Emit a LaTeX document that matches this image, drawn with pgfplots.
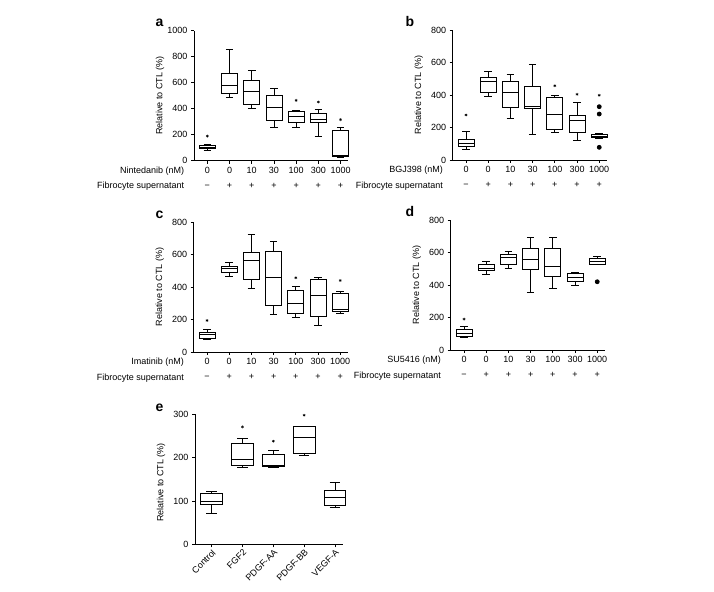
\documentclass[border=0pt]{standalone}
\usepackage{fontspec}
\setmainfont{Liberation Sans}
\usepackage{pgfplots}
\pgfplotsset{compat=1.18}
\usepgfplotslibrary{statistics}

\newcommand\fs{\fontsize{9}{10.5}\selectfont}

\tikzset{letter/.style={font=\bfseries\fontsize{14}{14}\selectfont, anchor=base west}}

\pgfplotsset{
  gp/.style={
    scale only axis,
    anchor=south west,
    axis lines=left,
    axis line style={-, line width=0.75pt},
    every tick/.style={black, line width=0.75pt},
    tick align=outside,
    major tick length=3pt,
    ymin=0,
    height=130pt,
    font=\fs,
    /pgf/number format/assume math mode=true,
    /pgf/number format/1000 sep={},
    ticklabel style={font=\fs},
    clip=false,
    ylabel={Relative to CTL (\%)},
    every axis y label/.style={at={(rel axis cs:0,0.5)}, xshift=-34pt,
      rotate=90, anchor=center, font=\fs},
    boxplot/draw direction=y,
    boxplot/box extend=0.72,
    boxplot/whisker extend=0.34,
  },
  dose/.style={
    xmin=-0.6, xmax=6.35, width=154.3pt,
    xtick={0,...,6},
    xticklabel style={align=center},
    xticklabels={{0\\[4pt]\char"2212},{0\\[4pt]+},{10\\[4pt]+},{30\\[4pt]+},
                 {100\\[4pt]+},{300\\[4pt]+},{1000\\[4pt]+}},
  },
  bx/.style={black, solid, line width=0.75pt, mark=*,
    mark options={fill=black, solid}, mark size=2pt,
    boxplot prepared={#1}},
  sig/.style={black, only marks, mark=asterisk, mark size=1.4pt, line width=0.5pt},
}

% treatment labels left of the dose rows
\newcommand\rows[1]{%
  \node[anchor=base east] at ([yshift=-12.8pt]axis cs:-0.88,0) {#1};
  \node[anchor=base east] at ([yshift=-28.3pt]axis cs:-0.88,0) {Fibrocyte supernatant};}

\begin{document}
\begin{tikzpicture}
% page frame
\path (0,0) rectangle (714pt,591pt);

% ---------------- a: Nintedanib ----------------
\node[letter] at (152pt,564pt) {a};
\begin{axis}[gp, dose, at={(194pt,430.3pt)}, ymax=1000, ytick={0,200,...,1000}]
\addplot[bx={draw position=0, lower whisker=80,  lower quartile=95,  median=103, upper quartile=115, upper whisker=122}] coordinates {};
\addplot[bx={draw position=1, lower whisker=487, lower quartile=520, median=577, upper quartile=668, upper whisker=855}] coordinates {};
\addplot[bx={draw position=2, lower whisker=400, lower quartile=436, median=533, upper quartile=615, upper whisker=696}] coordinates {};
\addplot[bx={draw position=3, lower whisker=258, lower quartile=311, median=413, upper quartile=505, upper whisker=553}] coordinates {};
\addplot[bx={draw position=4, lower whisker=260, lower quartile=291, median=340, upper quartile=383, upper whisker=390}] coordinates {};
\addplot[bx={draw position=5, lower whisker=189, lower quartile=291, median=319, upper quartile=367, upper whisker=393}] coordinates {};
\addplot[bx={draw position=6, lower whisker=26,  lower quartile=31,  median=43,  upper quartile=230, upper whisker=255}] coordinates {};
\addplot[sig] coordinates {(0,189) (4,464) (5,451) (6,316)};
\rows{Nintedanib (nM)}
\end{axis}

% ---------------- b: BGJ398 ----------------
\node[letter] at (402pt,564pt) {b};
\begin{axis}[gp, dose, at={(452.7pt,431pt)}, ymax=800, ytick={0,200,...,800}]
\addplot[bx={draw position=0, lower whisker=68,  lower quartile=82,  median=103, upper quartile=129, upper whisker=174}] coordinates {};
\addplot[bx={draw position=1, lower whisker=394, lower quartile=414, median=482, upper quartile=509, upper whisker=544}] coordinates {};
\addplot[bx={draw position=2, lower whisker=258, lower quartile=322, median=416, upper quartile=486, upper whisker=527}] coordinates {};
\addplot[bx={draw position=3, lower whisker=158, lower quartile=316, median=332, upper quartile=451, upper whisker=591}] coordinates {};
\addplot[bx={draw position=4, lower whisker=172, lower quartile=187, median=283, upper quartile=384, upper whisker=399}] coordinates {};
\addplot[bx={draw position=5, lower whisker=118, lower quartile=172, median=244, upper quartile=274, upper whisker=353}] coordinates {};
\addplot[bx={draw position=6, lower whisker=133, lower quartile=137, median=148, upper quartile=160, upper whisker=164}] coordinates {(6,328) (6,283) (6,78)};
\addplot[sig] coordinates {(0,277) (4,457) (5,404) (6,398)};
\rows{BGJ398 (nM)}
\end{axis}

% ---------------- c: Imatinib ----------------
\node[letter] at (152pt,372pt) {c};
\begin{axis}[gp, dose, at={(193.7pt,239pt)}, ymax=800, ytick={0,200,...,800}]
\addplot[bx={draw position=0, lower whisker=79,  lower quartile=86,  median=106, upper quartile=121, upper whisker=142}] coordinates {};
\addplot[bx={draw position=1, lower whisker=463, lower quartile=493, median=514, upper quartile=528, upper whisker=549}] coordinates {};
\addplot[bx={draw position=2, lower whisker=392, lower quartile=449, median=564, upper quartile=612, upper whisker=724}] coordinates {};
\addplot[bx={draw position=3, lower whisker=230, lower quartile=286, median=459, upper quartile=620, upper whisker=679}] coordinates {};
\addplot[bx={draw position=4, lower whisker=210, lower quartile=237, median=300, upper quartile=382, upper whisker=403}] coordinates {};
\addplot[bx={draw position=5, lower whisker=162, lower quartile=220, median=346, upper quartile=445, upper whisker=457}] coordinates {};
\addplot[bx={draw position=6, lower whisker=237, lower quartile=248, median=262, upper quartile=363, upper whisker=374}] coordinates {};
\addplot[sig] coordinates {(0,194) (4,457) (6,440)};
\rows{Imatinib (nM)}
\end{axis}

% ---------------- d: SU5416 ----------------
\node[letter] at (402pt,374pt) {d};
\begin{axis}[gp, dose, at={(450.7pt,241pt)}, ymax=800, ytick={0,200,...,800}]
\addplot[bx={draw position=0, lower whisker=76,  lower quartile=84,  median=104, upper quartile=124, upper whisker=144}] coordinates {};
\addplot[bx={draw position=1, lower whisker=464, lower quartile=490, median=504, upper quartile=524, upper whisker=544}] coordinates {};
\addplot[bx={draw position=2, lower whisker=500, lower quartile=528, median=570, upper quartile=586, upper whisker=604}] coordinates {};
\addplot[bx={draw position=3, lower whisker=354, lower quartile=496, median=556, upper quartile=624, upper whisker=694}] coordinates {};
\addplot[bx={draw position=4, lower whisker=380, lower quartile=454, median=512, upper quartile=628, upper whisker=694}] coordinates {};
\addplot[bx={draw position=5, lower whisker=400, lower quartile=424, median=444, upper quartile=470, upper whisker=478}] coordinates {};
\addplot[bx={draw position=6, lower whisker=524, lower quartile=530, median=544, upper quartile=564, upper whisker=576}] coordinates {(6,420)};
\addplot[sig] coordinates {(0,190)};
\rows{SU5416 (nM)}
\end{axis}

% ---------------- e: growth factors ----------------
\node[letter] at (152pt,179pt) {e};
\begin{axis}[gp, at={(195pt,46.7pt)}, ymax=300, ytick={0,100,200,300},
  xmin=-0.54, xmax=4.26, width=148pt,
  xtick={0,...,4},
  xticklabels={Control,FGF2,PDGF-AA,PDGF-BB,VEGF-A},
  xticklabel style={rotate=45, anchor=north east, inner sep=1pt},
  every axis y label/.append style={xshift=-3pt},
  boxplot/box extend=0.7, boxplot/whisker extend=0.34]
\addplot[bx={draw position=0, lower whisker=71,  lower quartile=92,  median=100, upper quartile=117, upper whisker=123}] coordinates {};
\addplot[bx={draw position=1, lower whisker=177, lower quartile=182, median=197, upper quartile=234, upper whisker=244}] coordinates {};
\addplot[bx={draw position=2, lower whisker=177, lower quartile=180, median=183, upper quartile=208, upper whisker=217}] coordinates {};
\addplot[bx={draw position=3, lower whisker=205, lower quartile=209, median=246, upper quartile=273, upper whisker=273}] coordinates {};
\addplot[bx={draw position=4, lower whisker=85,  lower quartile=89,  median=108, upper quartile=125, upper whisker=143}] coordinates {};
\addplot[sig] coordinates {(1,271) (2,238) (3,298)};
\end{axis}
\end{tikzpicture}
\end{document}
